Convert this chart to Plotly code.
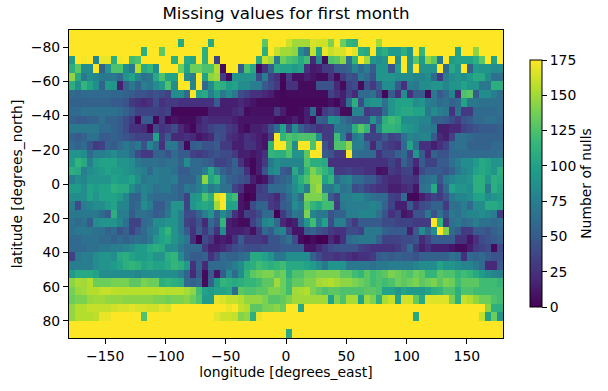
import plotly.graph_objects as go

longitude = [-177.5 + 5 * i for i in range(72)]
latitude = [-87.5 + 5 * i for i in range(36)]
x_ticks = [-150, -100, -50, 0, 50, 100, 150]
y_ticks = [-80, -60, -40, -20, 0, 20, 40, 60, 80]
bar_ticks = [0, 25, 50, 75, 100, 125, 150, 175]

r00 = [175] * 72
r01 = [175]*18+[105]+[175]*4+[105]+[175]*8+[130]+[175]*3+[162,150,150,150,165,162,162,140,175,135,115,110,175,175,175,150]+[175]*20
r02 = [175]*12+[110,175,175,130]+[175]*6+[110]+[175]*9+[110,175,160,150,150,145,85,65,160,100,170,160,165,165,175,168,110,105,175,100,110,95,95,110,90,175,115,175,175,175,175,175,100,175,175,145,175,175,175,175]
r03 = [95,175,172,175,80,170,170,110,172,175,120,125,175,175,175,175,175,110,175,105,100,175,110,175,35,175,175,175,175,175,175,105,160,150,75,
       135,125,120,105,120,20,80,5,125,130,145,65,115,175,150,90,85,90,175,85,175,90,130,95,145,130,70,175,95,100,100,100,110,130,175,100,175]
r04 = [110,130,85,85,175,55,90,125,125,85,70,155,105,115,85,175,175,175,135,100,135,135,125,125,155,5,175,175,50,125,105,5,25,55,105,
       100,100,95,100,25,12,15,30,30,50,50,55,80,60,75,50,90,90,45,95,175,90,175,90,90,90,175,60,105,90,175,55,95,90,90,85,85]
r05 = [145,105,70,85,80,70,70,70,60,90,100,80,65,70,105,125,100,100,175,85,75,175,100,145,150,30,5,90,90,90,90,40,75,35,25,
       3,30,8,8,15,10,5,5,25,5,30,45,40,70,60,45,90,90,90,85,85,85,80,80,85,60,30,75,85,90,85,95,105,105,85,65,65]
r06 = [110,85,115,100,85,55,95,90,15,55,70,55,75,70,85,95,125,85,175,175,80,175,60,85,115,110,95,100,85,85,75,75,50,40,30,
       2,25,25,5,5,5,45,45,45,20,5,35,40,5,45,30,50,85,85,50,25,75,70,85,85,90,90,80,90,90,100,90,90,70,70,110,110]
r07 = [60,58,60,60,60,60,60,58,58,55,50,45,45,40,45,40,35,85,85,60,175,100,105,75,95,70,85,70,40,35,25,25,20,15,5,
       3,5,5,5,5,5,5,5,35,25,15,35,20,60,60,65,40,3,50,25,85,25,50,50,5,70,50,60,80,20,125,130,50,85,85,75,65]
r08 = [55,55,55,55,55,55,55,50,50,45,30,25,20,25,40,25,30,30,25,25,25,25,25,25,50,15,15,15,20,15,10,5,5,5,5,
       3,3,3,3,3,3,3,3,8,3,15,65,110,40,85,90,90,65,90,100,100,100,85,90,75,70,60,65,55,60,100,70,70,65,65,65,65]
r09 = [60,60,65,65,65,65,65,65,60,55,45,35,35,35,35,30,35,3,3,3,3,3,3,15,15,15,15,20,25,5,8,8,8,8,30,
       15,3,3,5,15,60,5,30,40,30,5,5,80,80,30,35,35,60,90,100,105,105,100,100,70,85,75,70,25,65,30,30,60,60,60,60,65]
r10 = [55,50,50,55,55,65,55,55,50,40,30,3,50,50,3,30,3,10,5,5,5,15,25,20,20,20,20,15,10,10,10,10,10,10,5,
       5,8,15,5,15,5,55,50,90,85,65,55,45,45,45,90,60,110,120,115,85,85,85,80,80,55,55,50,40,30,45,50,60,60,65,65,60]
r11 = [70,70,70,70,70,60,60,55,50,40,25,25,22,3,40,25,30,40,20,10,3,20,25,35,40,40,30,25,10,5,15,15,20,40,60,
       100,40,85,55,40,35,25,30,30,70,70,65,110,130,115,30,80,115,115,110,95,90,85,75,75,70,15,15,20,20,35,40,45,50,50,50,55]
r12 = [55,50,55,65,65,50,50,55,50,45,40,35,35,35,100,30,50,20,20,25,20,10,15,20,45,40,25,20,15,25,20,15,10,30,175,
       115,125,120,125,125,125,85,30,30,120,75,30,70,80,35,35,35,50,35,40,65,80,75,80,80,50,20,15,35,65,65,60,55,55,55,55,55]
r13 = [60,55,60,45,30,35,55,50,60,70,60,70,45,80,60,25,70,70,45,3,50,55,45,45,50,30,30,15,15,25,25,15,10,115,175,
       175,130,85,175,175,125,175,45,30,125,125,145,75,75,60,20,50,35,30,25,60,100,65,25,25,15,25,35,60,65,65,55,55,55,55,60,60]
r14 = [90,90,85,60,75,75,80,85,75,75,60,40,30,30,55,55,45,60,50,50,35,30,35,40,45,40,40,30,15,15,10,15,25,115,110,
       110,125,90,90,130,175,175,50,45,30,30,175,65,60,60,60,25,40,40,55,60,35,90,50,20,55,45,45,60,60,60,60,60,60,60,60,65]
r15 = [95,115,105,75,95,100,100,100,90,90,85,70,65,65,65,60,65,65,55,85,60,60,55,50,35,35,40,55,25,10,3,15,30,70,85,
       80,80,80,80,125,110,110,105,25,25,25,25,25,25,25,25,25,25,35,25,55,40,20,50,35,35,50,50,65,75,85,85,95,105,100,90,90]
r16 = [110,105,75,85,90,95,100,95,95,90,85,80,75,60,75,70,70,65,50,50,60,60,75,105,75,55,45,55,50,25,3,15,45,80,85,
       50,45,105,80,115,140,125,115,100,30,30,35,30,30,25,25,8,10,30,25,35,35,10,40,50,50,50,45,55,70,80,85,100,105,100,90,110]
r17 = [75,85,80,90,90,90,90,100,95,95,100,85,70,75,75,70,70,75,55,55,55,75,145,100,115,70,55,50,45,40,15,5,10,35,50,
       55,60,90,110,125,145,145,100,115,60,75,80,60,60,50,50,35,25,20,20,30,30,25,60,65,70,45,70,80,85,85,90,110,110,90,110,105]
r18 = [95,95,85,100,95,100,100,110,105,105,85,70,80,75,65,70,70,60,55,70,65,75,90,70,80,65,65,35,25,5,5,30,35,60,60,
       60,70,85,100,75,140,150,75,70,85,65,70,40,45,35,30,25,25,15,15,20,25,10,65,70,105,35,60,100,90,90,85,110,110,70,110,100]
r19 = [85,85,85,100,90,100,100,100,95,80,55,55,80,65,60,60,60,60,55,35,90,95,125,110,165,175,110,120,10,0,3,35,35,30,20,
       45,60,80,60,140,140,140,125,50,35,75,75,80,80,70,65,60,60,35,30,60,3,3,15,25,35,30,45,70,80,80,85,100,100,85,90,95]
r20 = [75,40,75,80,85,85,95,100,80,80,55,60,85,75,50,50,65,90,90,35,90,100,105,100,150,175,100,100,10,5,40,55,55,30,25,
       50,55,85,75,130,115,105,120,120,30,70,75,75,75,75,80,75,55,35,15,15,50,25,40,45,55,55,30,65,65,75,60,85,85,105,105,100]
r21 = [70,70,70,70,70,60,50,110,75,75,50,65,65,60,50,55,70,90,75,40,40,55,75,90,55,85,65,25,10,35,30,40,60,60,0,
       30,50,70,65,140,80,70,70,45,55,55,75,75,80,80,80,65,45,25,35,10,15,45,45,70,45,65,45,70,65,75,80,80,85,80,75,30]
r22 = [65,60,65,50,85,90,90,90,80,65,35,35,60,65,85,85,90,90,75,35,30,45,20,60,45,115,15,10,5,5,35,50,80,85,60,
       20,10,15,60,90,120,75,100,40,75,75,45,30,50,50,50,50,40,40,35,35,35,30,30,30,175,115,30,65,70,60,65,75,65,65,60,65]
r23 = [65,70,70,70,65,65,55,60,45,55,35,50,60,75,80,100,115,90,75,50,25,50,30,50,25,85,15,15,15,20,8,30,60,50,75,
       80,35,10,10,50,55,45,40,30,25,25,40,40,35,70,70,70,55,50,50,50,15,50,85,60,85,175,140,60,50,30,30,50,50,45,55,60]
r24 = [60,60,65,65,65,60,60,55,60,55,60,65,60,70,90,100,105,90,80,70,25,0,40,30,10,15,10,25,50,30,30,30,25,45,45,
       55,65,40,5,0,5,0,0,20,10,25,60,65,70,70,70,55,35,35,35,40,40,45,20,35,50,50,50,50,25,25,10,25,40,45,50,55]
r25 = [60,60,60,65,65,70,70,75,75,80,85,95,95,105,110,105,85,85,70,60,60,60,30,15,15,20,30,40,45,40,40,40,45,45,45,
       50,50,50,50,10,10,20,30,40,45,45,45,45,35,30,25,25,25,25,30,40,60,30,15,25,15,15,15,10,5,5,15,30,35,40,5,40]
r26 = [35,70,75,75,85,90,90,85,105,110,100,95,95,100,90,90,110,115,85,60,50,50,55,25,40,60,55,55,60,65,105,105,100,90,70,
       70,85,85,85,85,55,40,30,30,25,30,25,20,25,25,30,50,55,50,55,50,50,45,55,55,55,55,55,65,60,25,60,55,60,50,45,45]
r27 = [75,75,75,75,85,90,90,95,100,110,115,110,100,105,100,100,105,115,110,95,25,55,20,60,60,60,65,75,85,105,110,120,115,110,115,
       120,105,105,105,100,95,85,70,90,90,90,70,70,70,70,65,70,70,75,75,75,75,80,85,85,85,100,90,90,85,80,80,70,60,20,20,50]
r28 = [95,105,105,105,100,85,85,85,85,85,85,80,85,85,85,85,85,85,75,55,20,50,5,50,10,50,85,60,85,115,130,135,140,140,130,
       135,110,125,125,135,135,140,140,140,140,130,130,120,115,130,120,125,130,140,135,130,125,135,130,115,115,130,125,125,115,120,115,105,95,85,80,75]
r29 = [145,152,150,155,135,135,135,138,138,138,130,130,140,135,135,110,115,110,105,60,55,60,5,55,95,115,110,105,110,115,115,120,130,130,150,
       135,120,132,132,140,140,150,152,155,150,145,145,140,135,130,120,125,120,125,135,130,135,140,130,135,140,130,140,135,120,130,130,130,120,120,120,115]
r30 = [138,148,150,155,155,160,160,158,156,156,156,156,156,156,156,158,156,156,156,152,145,120,100,95,100,100,105,60,130,125,125,130,130,140,140,
       135,120,150,152,155,140,132,125,130,130,125,125,125,125,130,130,125,100,100,90,100,95,95,95,100,110,115,125,125,110,125,125,120,120,120,120,120]
r31 = [135,140,140,148,150,150,146,146,146,144,144,144,144,144,140,140,136,140,140,144,135,125,95,95,168,165,160,160,155,146,146,146,140,128,128,
       132,140,150,150,150,150,150,150,100,140,125,152,152,100,150,140,110,152,160,100,163,163,132,105,168,167,167,167,140,110,160,155,145,135,135,125,120]
r32 = [146,155,155,160,160,160,160,163,165,165,168,165,165,163,163,168,165,175,175,175,175,175,175,175,175,175,170,175,160,155,130,130,138,140,145,
       135,175,175,105,175,175,175,175,175,175,175,175,175,175,175,175,175,175,175,175,175,175,175,175,175,175,175,175,175,175,175,175,175,175,145,110,110]
r33 = [146,155,155,155,158,170,170,175,175,175,175,175,125,175,175,175,175,175,175,175,175,175,175,175,168,162,162,160,142,146,110,170,175,175,175,
       175,175,175,175,175,175,175,175,175,175,175,175,175,175,175,175,175,175,175,175,175,175,105,175,175,175,175,175,175,175,175,175,175,160,100,135,90]
r34 = [175] * 72
r35 = [175] * 36 + [105] + [175] * 35

nulls = [r00,r01,r02,r03,r04,r05,r06,r07,r08,r09,r10,r11,r12,r13,r14,r15,r16,r17,r18,r19,r20,r21,r22,r23,r24,r25,r26,r27,r28,r29,r30,r31,r32,r33,r34,r35]
bad = [(i, len(r)) for i, r in enumerate(nulls) if len(r) != 72]
assert not bad, bad

FONT = "DejaVu Sans"
fig = go.Figure(go.Heatmap(
    x=longitude, y=latitude, z=nulls, zmin=0, zmax=175, colorscale="Viridis",
    colorbar=dict(
        title=dict(text="Number of nulls", side="right", font=dict(size=13.9, family=FONT, color="black")),
        tickvals=bar_ticks, ticks="outside", ticklen=5, tickwidth=1, tickcolor="black",
        tickfont=dict(size=13.9, family=FONT, color="black"),
        thickness=12, thicknessmode="pixels", len=247 / 308, lenmode="fraction",
        x=(530 - 69) / 434, xref="paper", xanchor="left",
        y=(338 - 183.5) / 308, yref="paper", yanchor="middle",
        outlinecolor="black", outlinewidth=1, xpad=0, ypad=0,
    ),
))
axis = dict(showgrid=False, zeroline=False, showline=True, mirror=True, linecolor="black", linewidth=1.2,
            ticks="outside", ticklen=5, tickwidth=1, tickcolor="black",
            tickfont=dict(size=13.9, family=FONT, color="black"))
fig.update_xaxes(range=[-180, 180], tickvals=x_ticks, title=dict(text="longitude [degrees_east]", standoff=4,
                 font=dict(size=13.9, family=FONT, color="black")), **axis)
fig.update_yaxes(range=[90, -90], tickvals=y_ticks, title=dict(text="latitude [degrees_north]", standoff=4,
                 font=dict(size=13.9, family=FONT, color="black")), **axis)
fig.update_layout(
    width=608, height=391, autosize=False, paper_bgcolor="white", plot_bgcolor="white",
    margin=dict(l=69, r=105, t=30, b=53, pad=0),
    title=dict(text="Missing values for first month", x=286 / 608, xanchor="center",
               y=1 - 13 / 391, yanchor="middle", font=dict(size=16.67, family=FONT, color="black")),
)
fig.write_html("out.html", post_script="document.body.style.margin='0';", config=dict(displayModeBar=False))
